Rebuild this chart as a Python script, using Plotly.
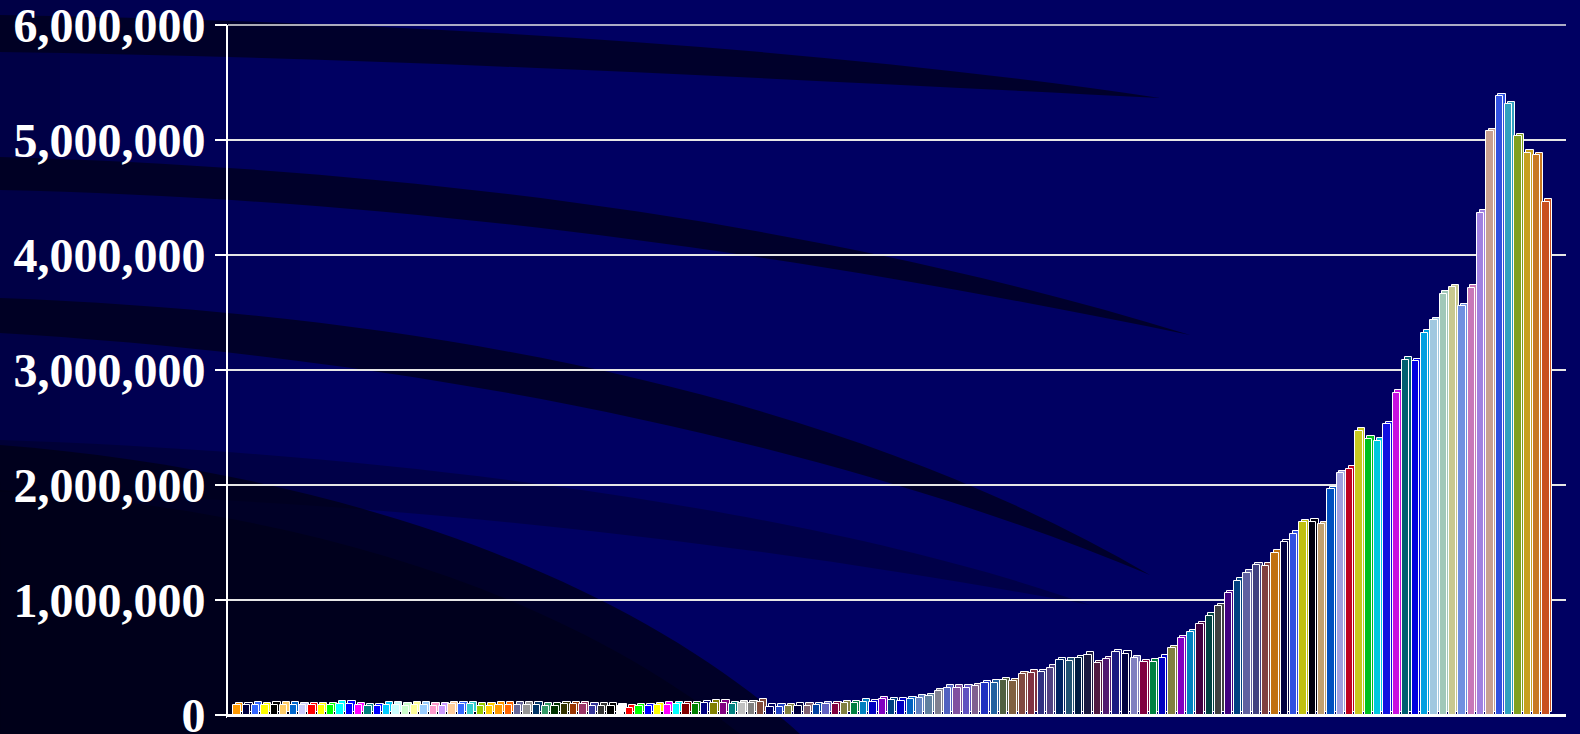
import plotly.graph_objects as go

# ---------------- data ----------------
categories = list(range(1, 142))

values = [
    85000, 85000, 90000, 85000, 90000, 90000, 90000, 85000, 85000, 85000,
    85000, 98000, 98000, 85000, 75000, 75000, 90000, 90000, 80000, 88000,
    88000, 82000, 82000, 95000, 95000, 95000, 82000, 82000, 90000, 90000,
    90000, 90000, 90000, 82000, 82000, 92000, 92000, 92000, 82000, 82000,
    82000, 78000, 64000, 75000, 75000, 85000, 88000, 93000, 93000, 93000,
    102000, 108000, 108000, 95000, 102000, 102000, 116000, 73000, 73000, 75000,
    82000, 82000, 85000, 94000, 94000, 102000, 102000, 115000, 112000, 137000,
    129000, 123000, 138000, 150000, 164000, 207000, 237000, 237000, 237000, 251000,
    274000, 280000, 303000, 294000, 355000, 367000, 370000, 413000, 477000, 472000,
    492000, 525000, 448000, 485000, 545000, 531000, 492000, 457000, 463000, 500000,
    579000, 666000, 718000, 788000, 863000, 947000, 1057000, 1168000, 1237000, 1304000,
    1300000, 1412000, 1501000, 1574000, 1675000, 1681000, 1658000, 1961000, 2102000, 2140000,
    2470000, 2400000, 2385000, 2530000, 2800000, 3090000, 3075000, 3322000, 3432000, 3664000,
    3719000, 3554000, 3714000, 4366000, 5077000, 5382000, 5309000, 5034000, 4889000, 4869000,
    4462000,
]

bar_colors = [
    "#ff9900", "#000040", "#3366ff", "#ffff00", "#000000", "#ffcc66", "#0066cc", "#ccccff", "#ff0000", "#ffff00",
    "#00ff00", "#00ffff", "#0000ff", "#ff00ff", "#008080", "#0000ff", "#00ccff", "#ccffff", "#ccffcc", "#ffff99",
    "#99ccff", "#ff99cc", "#cc99ff", "#ffcc99", "#3366ff", "#33cccc", "#99cc00", "#ffcc00", "#ff9900", "#ff6600",
    "#666699", "#969696", "#003366", "#339966", "#003300", "#333300", "#993300", "#993366", "#333399", "#333333",
    "#000000", "#ffffff", "#ff0000", "#00ff00", "#0000ff", "#ffff00", "#ff00ff", "#00ffff", "#800000", "#008000",
    "#000080", "#808000", "#800080", "#008080", "#c0c0c0", "#808080", "#804838", "#000066", "#2040c0", "#808040",
    "#000040", "#806070", "#0040a0", "#6060c0", "#800040", "#808040", "#008040", "#0080c0", "#0000c0", "#8000c0",
    "#004080", "#0000c0", "#0060c0", "#6080c0", "#6080a0", "#808090", "#5060c0", "#8050a0", "#6050c0", "#806090",
    "#2030c0", "#2060a0", "#506040", "#806040", "#804840", "#803040", "#303080", "#504080", "#002060", "#205070",
    "#001a40", "#1a1a40", "#501a40", "#501a70", "#1a1a80", "#000040", "#8080c0", "#800040", "#008040", "#0000c0",
    "#808040", "#8000c0", "#0080c0", "#400040", "#004040", "#404040", "#400080", "#004080", "#6060a0", "#404080",
    "#804040", "#c07010", "#000040", "#3050e0", "#c0c010", "#000010", "#c0a070", "#0050c0", "#a0a0e0", "#c00020",
    "#c8c820", "#00c020", "#00c8e0", "#1010e0", "#c810e0", "#006070", "#0000e0", "#00a0e0", "#a0c8e0", "#a0c8b8",
    "#c8c890", "#7090e0", "#c878b8", "#a080e0", "#c8a090", "#3050e0", "#30a0c0", "#80a020", "#c8a020", "#c87820",
    "#c85020",
]

y_ticks = [0, 1000000, 2000000, 3000000, 4000000, 5000000, 6000000]

# ---------------- layout geometry ----------------
FIG_W, FIG_H = 1580, 734
M_L, M_R, M_T, M_B = 228, 14, 25, 19
PW = FIG_W - M_L - M_R
PH = FIG_H - M_T - M_B

BAR_W = 0.78
DEPTH_X = 0.28          # 3D depth offset (category units)
DEPTH_Y = 22000         # 3D depth offset (value units)

fig = go.Figure()

# back faces (3D depth)
fig.add_trace(go.Bar(
    x=categories, y=values, base=DEPTH_Y,
    width=BAR_W, offset=-BAR_W / 2 + DEPTH_X,
    marker=dict(color=bar_colors, line=dict(color="#ffffff", width=1)),
    hoverinfo="skip", showlegend=False,
))
# front faces
fig.add_trace(go.Bar(
    x=categories, y=values,
    width=BAR_W, offset=-BAR_W / 2,
    marker=dict(color=bar_colors, line=dict(color="#ffffff", width=1)),
    showlegend=False,
))


def px(x):
    return (x - M_L) / PW


def py(y):
    return (M_T + PH - y) / PH


def path(points):
    s = ""
    for cmd, pts in points:
        s += cmd + " " + " ".join(f"{px(a):.4f},{py(b):.4f}" for a, b in pts) + " "
    return s + "Z"


shapes = []

# left darker gradient strips
for x0, x1, op in [(0, 60, 0.35), (60, 120, 0.28), (120, 180, 0.2), (180, 240, 0.13), (240, 300, 0.07)]:
    shapes.append(dict(type="rect", xref="paper", yref="paper", x0=px(x0), x1=px(x1), y0=py(FIG_H), y1=py(0),
                       fillcolor=f"rgba(0,0,20,{op})", line=dict(width=0), layer="below"))

# swoosh bands
bands = [
    [("M", [(0, 15)]), ("C", [(400, 22), (800, 45), (1160, 98)]), ("C", [(800, 80), (400, 58), (0, 52)])],
    [("M", [(0, 157)]), ("C", [(450, 170), (850, 230), (1190, 335)]), ("C", [(850, 265), (450, 200), (0, 190)])],
    [("M", [(0, 298)]), ("C", [(450, 315), (850, 400), (1150, 575)]), ("C", [(850, 450), (450, 360), (0, 333)])],
]
for b in bands:
    shapes.append(dict(type="path", xref="paper", yref="paper", path=path(b),
                       fillcolor="rgba(0,0,26,0.75)", line=dict(width=0), layer="below"))

# lower subtle band
shapes.append(dict(type="path", xref="paper", yref="paper",
                   path=path([("M", [(0, 440)]), ("C", [(450, 455), (850, 520), (1090, 605)]),
                              ("C", [(850, 560), (450, 500), (0, 492)])]),
                   fillcolor="rgba(0,0,26,0.35)", line=dict(width=0), layer="below"))

# bottom-left dark wedge
shapes.append(dict(type="path", xref="paper", yref="paper",
                   path=path([("M", [(0, 445)]), ("C", [(320, 470), (620, 570), (800, 734)]), ("L", [(0, 734)])]),
                   fillcolor="rgba(0,0,22,0.75)", line=dict(width=0), layer="below"))
shapes.append(dict(type="path", xref="paper", yref="paper",
                   path=path([("M", [(0, 490)]), ("C", [(300, 510), (560, 590), (740, 734)]), ("L", [(0, 734)])]),
                   fillcolor="rgba(0,0,18,0.5)", line=dict(width=0), layer="below"))

# double wall edge line on the y axis
shapes.append(dict(type="line", xref="paper", yref="paper", x0=px(226.5), x1=px(226.5), y0=py(718), y1=py(25),
                   line=dict(color="#ffffff", width=1), layer="above"))
# top edge of the back wall (6,000,000 grid line)
shapes.append(dict(type="line", xref="paper", yref="paper", x0=0, x1=1, y0=1, y1=1,
                   line=dict(color="#e6e6e6", width=1.5), layer="below"))

fig.update_layout(
    width=FIG_W, height=FIG_H,
    margin=dict(l=M_L, r=M_R, t=M_T, b=M_B, autoexpand=False),
    paper_bgcolor="#000062",
    plot_bgcolor="rgba(0,0,0,0)",
    barmode="overlay",
    bargap=0,
    shapes=shapes,
    xaxis=dict(
        range=[0.03, 143.13], showgrid=False, zeroline=False,
        showticklabels=False, ticks="", automargin=False,
        showline=True, linecolor="#ffffff", linewidth=2,
    ),
    yaxis=dict(
        range=[0, 6000000], tickvals=y_ticks, tickformat=",d", automargin=False,
        ticklabeloverflow="allow",
        showgrid=True, gridcolor="#e6e6e6", gridwidth=1.5,
        zeroline=True, zerolinecolor="#ffffff", zerolinewidth=2,
        showline=True, linecolor="#ffffff", linewidth=1,
        ticks="outside", ticklen=12, tickwidth=1.5, tickcolor="#ffffff",
        ticklabelstandoff=0,
        tickfont=dict(family="Liberation Serif, Times New Roman, serif", size=48, color="#ffffff", weight="bold"),
    ),
)

fig.write_html("out.html")
